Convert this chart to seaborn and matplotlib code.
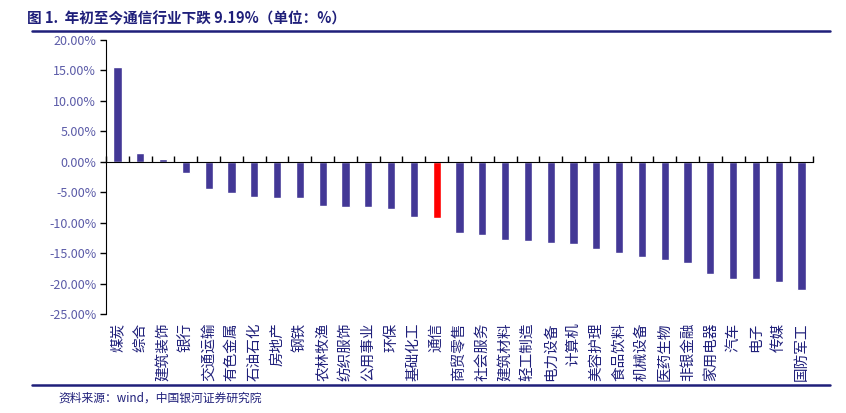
import matplotlib.pyplot as plt
import matplotlib.lines as mlines
import numpy as np
import seaborn as sns

# Year-to-date industry returns (%)
industries = ["煤炭", "综合", "建筑装饰", "银行", "交通运输", "有色金属", "石油石化",
              "房地产", "钢铁", "农林牧渔", "纺织服饰", "公用事业", "环保", "基础化工",
              "通信", "商贸零售", "社会服务", "建筑材料", "轻工制造", "电力设备",
              "计算机", "美容护理", "食品饮料", "机械设备", "医药生物", "非银金融",
              "家用电器", "汽车", "电子", "传媒", "国防军工"]
returns = [15.5, 1.5, 0.4, -1.9, -4.5, -5.2, -5.8,
           -5.9, -6.0, -7.3, -7.5, -7.5, -7.7, -9.0,
           -9.19, -11.7, -12.1, -12.8, -13.0, -13.3,
           -13.5, -14.4, -14.9, -15.6, -16.1, -16.7,
           -18.5, -19.3, -19.3, -19.8, -21.0]
highlight = "通信"
y_ticks = [-25, -20, -15, -10, -5, 0, 5, 10, 15, 20]

sns.set_style("white")
plt.rcParams['font.family'] = ['Noto Sans CJK SC', 'DejaVu Sans']

navy = "#1F1F7A"
bar_color = "#433896"
tick_color = "#5B5BA8"

fig = plt.figure(figsize=(8.46, 4.13), dpi=100)
ax = fig.add_axes([0.1253, 0.2397, 0.8357, 0.6634])

colors = ["#FF0000" if c == highlight else bar_color for c in industries]
sns.barplot(x=industries, y=returns, hue=industries, palette=colors, legend=False,
            width=0.36, saturation=1, ax=ax)

n = len(industries)
ax.set_xlim(-0.5, n - 0.5)
ax.set_ylim(min(y_ticks), max(y_ticks))
ax.set_yticks(y_ticks)
ax.set_yticklabels([f"{v:.2f}%" for v in y_ticks], color=tick_color, fontsize=9)
ax.tick_params(axis='y', direction='out', length=4, width=1, color='black', pad=3,
               left=True)

# zero line with tick marks between categories
ax.spines['bottom'].set_position(('data', 0))
ax.spines['bottom'].set_color('black')
ax.spines['left'].set_color('black')
ax.spines['top'].set_visible(False)
ax.spines['right'].set_visible(False)
ax.set_xticks(np.arange(n + 1) - 0.5)
ax.set_xticklabels([])
ax.tick_params(axis='x', direction='in', length=4, width=1, color='black', bottom=True)
ax.set_xlabel("")
ax.set_ylabel("")

# category labels along the bottom of the plot
sec = ax.secondary_xaxis('bottom')
sec.set_xticks(np.arange(n), labels=industries, rotation=90, color=navy, fontsize=10.5)
sec.tick_params(length=0, pad=6)
sec.spines['bottom'].set_visible(False)

# header, rules and source
fig.text(0.032, 0.956, "图 1.  年初至今通信行业下跌 9.19%（单位：%）", fontsize=10.5,
         fontweight='bold', color=navy, va='center')
fig.add_artist(mlines.Line2D([0.038, 0.981], [0.925, 0.925], color=navy, lw=1.8))
fig.add_artist(mlines.Line2D([0.038, 0.981], [0.068, 0.068], color=navy, lw=1.8))
fig.text(0.069, 0.036, "资料来源：wind，中国银河证券研究院", fontsize=8.5,
         style='italic', color=navy, va='center')

plt.savefig("out.png", dpi=100)
